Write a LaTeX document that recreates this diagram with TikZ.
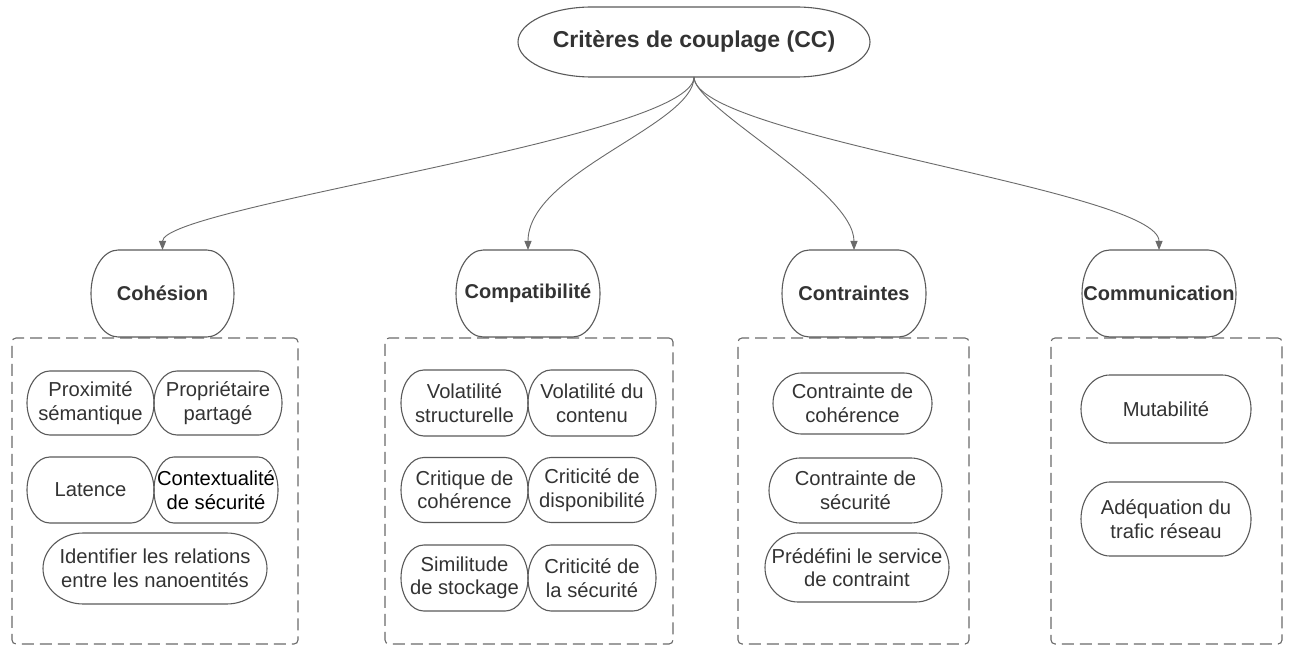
\documentclass[tikz,border=0pt]{standalone}
\usepackage{fontspec}
\setmainfont{Liberation Sans}
\usetikzlibrary{arrows.meta,calc}
\definecolor{lc}{HTML}{5A5A5A}
\definecolor{dc}{HTML}{6A6A6A}
\definecolor{tc}{HTML}{333333}
\tikzset{
  outl/.style={draw=lc, line width=1.1pt},
  base/.style={rectangle, inner sep=0pt, outer sep=0pt, align=center, text=tc},
  toptxt/.style={base, font=\bfseries\fontsize{23}{27}\selectfont},
  cattxt/.style={base, font=\bfseries\fontsize{20}{24}\selectfont},
  itemtxt/.style={base, font=\fontsize{20.2}{23.5}\selectfont},
  grp/.style={rectangle, draw=dc, line width=1.1pt, dash pattern=on 12pt off 6pt, rounded corners=4pt, inner sep=0pt},
  conn/.style={draw=dc, line width=0.9pt, -{Triangle[length=9pt,width=7pt]}},
}
% name, x, y, w, h, style, text, corner fraction
\newcommand\stadnode[8]{%
  \node[#6, minimum width=#4pt, minimum height=#5pt] (#1) at (#2,#3) {#7};
  \pgfmathsetmacro\myrr{#8*#4}%
  \pgfmathsetmacro\myhh{#5/2}%
  \draw[outl] ([xshift=\myrr pt]#1.north west) -- ([xshift=-\myrr pt]#1.north east)
    arc[start angle=90, end angle=-90, x radius=\myrr pt, y radius=\myhh pt]
    -- ([xshift=\myrr pt]#1.south west)
    arc[start angle=270, end angle=90, x radius=\myrr pt, y radius=\myhh pt] -- cycle;
}
\begin{document}
\begin{tikzpicture}[x=1pt,y=1pt]
\fill[white] (0,0) rectangle (1289,646);
\useasboundingbox (0,0) rectangle (1289,646);

% dashed groups
\node[grp, minimum width=286pt, minimum height=306pt] (g1) at (155,155) {};
\node[grp, minimum width=288pt, minimum height=306pt] (g2) at (529,155) {};
\node[grp, minimum width=231pt, minimum height=306pt] (g3) at (853.5,155) {};
\node[grp, minimum width=231pt, minimum height=306pt] (g4) at (1166.5,155) {};

% top
\stadnode{top}{694}{604}{352}{70}{toptxt}{Critères de couplage (CC)}{0.21}

% categories
\stadnode{coh}{162.5}{352.5}{143}{87}{cattxt}{Cohésion}{0.19}
\stadnode{comp}{528}{352.5}{144}{87}{cattxt}{Compatibilité}{0.19}
\stadnode{cont}{854}{352.5}{144}{87}{cattxt}{Contraintes}{0.19}
\stadnode{comm}{1159}{352.5}{154}{87}{cattxt}{Communication}{0.18}

% Cohesion items
\stadnode{prox}{90.5}{243}{127}{64}{itemtxt}{Proximité\\sémantique}{0.18}
\stadnode{prop}{218}{243}{128}{64}{itemtxt}{Propriétaire\\partagé}{0.18}
\stadnode{lat}{90.5}{156}{127}{66}{itemtxt}{Latence}{0.18}
\stadnode{ctx}{216}{156}{124}{66}{itemtxt, text=black}{Contextualité\\de sécurité}{0.16}
\stadnode{ident}{155}{77.5}{224}{71}{itemtxt}{Identifier les relations\\entre les nanoentités}{0.18}

% Compatibilite items
\stadnode{vs}{464.5}{243}{127}{66}{itemtxt}{Volatilité\\structurelle}{0.18}
\stadnode{vc}{592}{243}{128}{66}{itemtxt}{Volatilité du\\contenu}{0.18}
\stadnode{cc}{464.5}{156}{127}{65}{itemtxt}{Critique de\\cohérence}{0.18}
\stadnode{cd}{592}{156}{128}{65}{itemtxt}{Criticité de\\disponibilité}{0.18}
\stadnode{ss}{464.5}{68}{127}{66}{itemtxt}{Similitude\\de stockage}{0.18}
\stadnode{cs}{592}{68}{128}{66}{itemtxt}{Criticité de\\la sécurité}{0.18}

% Contraintes items
\stadnode{c1}{852.5}{242.5}{159}{61}{itemtxt}{Contrainte de\\cohérence}{0.18}
\stadnode{c2}{855.5}{155.5}{173}{65}{itemtxt}{Contrainte de\\sécurité}{0.18}
\stadnode{c3}{857}{78.5}{184}{69}{itemtxt}{Prédéfini le service\\de contraint}{0.18}

% Communication items
\stadnode{mut}{1166}{237}{170}{68}{itemtxt}{Mutabilité}{0.17}
\stadnode{adq}{1166}{127}{170}{74}{itemtxt}{Adéquation du\\trafic réseau}{0.17}

% connectors
\draw[conn] (top.south) .. controls +(0,-61) and +(0,44) .. (coh.north);
\draw[conn] (top.south) .. controls +(0,-48) and +(0,78) .. (comp.north);
\draw[conn] (top.south) .. controls +(0,-31) and +(0,60) .. (cont.north);
\draw[conn] (top.south) .. controls +(0,-60) and +(0,60) .. (comm.north);
\end{tikzpicture}
\end{document}
